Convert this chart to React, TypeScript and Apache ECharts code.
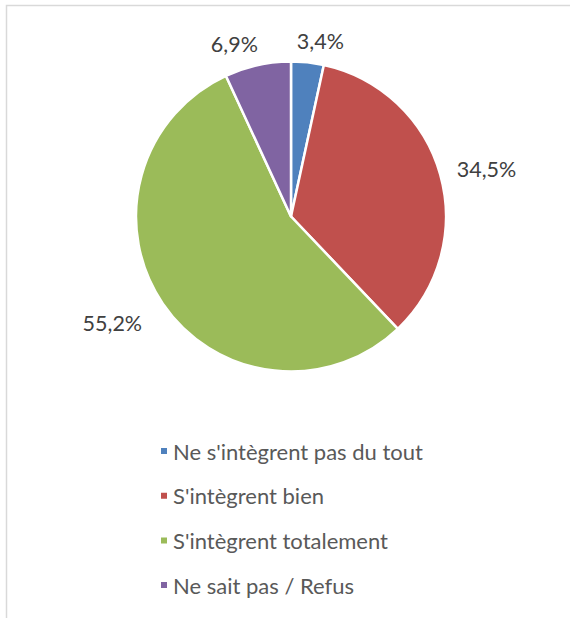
import React, { useEffect, useRef } from "react";
import * as echarts from "echarts";

const categories = [
  "Ne s'intègrent pas du tout",
  "S'intègrent bien",
  "S'intègrent totalement",
  "Ne sait pas / Refus",
];
const values = [3.4, 34.5, 55.2, 6.9];
const labels = ["3,4%", "34,5%", "55,2%", "6,9%"];
const colors = ["#4F81BD", "#C0504D", "#9BBB59", "#8064A2"];
// label placement tweaks (style only)
const labelLen = [22, 12, 19, 22];
const labelOffset = [[-18, 0], [0, -2], [0, 9], [10, 0]];

export default function App() {
  const ref = useRef<HTMLDivElement>(null);
  useEffect(() => {
    if (!ref.current) return;
    const chart = echarts.init(ref.current, undefined, { renderer: "svg" });
    chart.setOption({
      animation: false,
      backgroundColor: "#ffffff",
      graphic: [
        {
          type: "rect",
          shape: { x: 6.5, y: 5.5, width: 700, height: 700 },
          style: { fill: "none", stroke: "#D9D9D9", lineWidth: 1.5 },
          silent: true,
        },
      ],
      legend: {
        orient: "vertical",
        left: 154,
        top: 435,
        icon: "rect",
        itemWidth: 8,
        itemHeight: 8,
        itemGap: 22.7,
        data: categories,
        textStyle: { fontSize: 22, color: "#595959", fontFamily: "Lato" },
      },
      series: [
        {
          type: "pie",
          center: [291, 216.5],
          radius: [0, 155],
          startAngle: 90,
          clockwise: true,
          avoidLabelOverlap: false,
          itemStyle: { borderColor: "#ffffff", borderWidth: 2.5 },
          label: {
            show: true,
            position: "outside",
            formatter: (p: any) => labels[p.dataIndex],
            fontSize: 21.5,
            color: "#404040",
            fontFamily: "Lato",
          },
          labelLine: { show: false, length: 12, length2: 0 },
          data: categories.map((c, i) => ({
            name: c,
            value: values[i],
            itemStyle: { color: colors[i] },
            label: { offset: labelOffset[i] },
            labelLine: { show: false, length: labelLen[i], length2: 0 },
          })),
        },
      ],
    });
    return () => chart.dispose();
  }, []);
  return (
    <div
      ref={ref}
      style={{ position: "fixed", left: 0, top: 0, width: 570, height: 618 }}
    />
  );
}
